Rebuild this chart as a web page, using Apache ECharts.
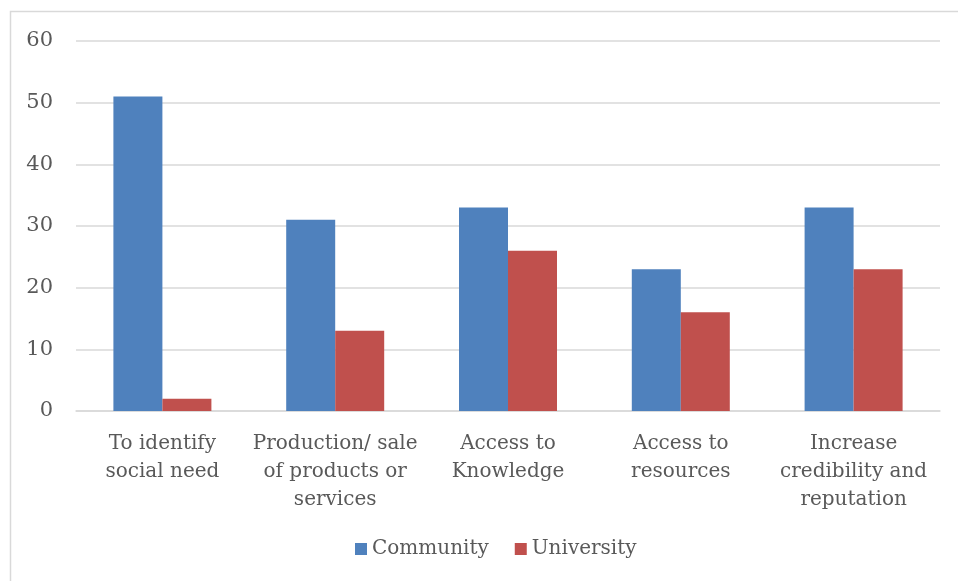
<!DOCTYPE html>
<html><head><meta charset="utf-8">
<script src="https://cdn.jsdelivr.net/npm/echarts@6/dist/echarts.min.js"></script>
<style>html,body{margin:0;padding:0;background:#fff}#c{width:958px;height:581px}</style>
</head><body><div id="c"></div>
<script>
const categories = ["To identify\nsocial need", "Production/ sale\nof products or\nservices", "Access to\nKnowledge", "Access to\nresources", "Increase\ncredibility and\nreputation"];
const community = [51, 31, 33, 23, 33];
const university = [2, 13, 26, 16, 23];
const yTicks = [0, 10, 20, 30, 40, 50, 60];

const FONT = "DejaVu Serif";
const chart = echarts.init(document.getElementById('c'));
chart.setOption({
  animation: false,
  textStyle: { fontFamily: FONT },
  graphic: [{ type: 'rect', shape: { x: 10.5, y: 11.5, width: 1000, height: 700 }, style: { fill: 'none', stroke: '#d9d9d9', lineWidth: 1.5 }, silent: true }],
  grid: { left: 76, right: 18, top: 41, bottom: 170, containLabel: false },
  legend: {
    data: ['Community', 'University'], bottom: 17, left: 350,
    itemWidth: 12, itemHeight: 12, itemGap: 26,
    icon: 'rect',
    textStyle: { fontFamily: FONT, fontSize: 20, color: '#595959' }
  },
  xAxis: {
    type: 'category', data: categories,
    axisLine: { lineStyle: { color: '#d9d9d9', width: 1.5 } },
    axisTick: { show: false },
    axisLabel: { fontFamily: FONT, fontSize: 20, color: '#595959', lineHeight: 28, margin: 19, interval: 0 }
  },
  yAxis: {
    type: 'value', min: yTicks[0], max: yTicks[yTicks.length - 1], interval: 10,
    axisLine: { show: false }, axisTick: { show: false },
    splitLine: { lineStyle: { color: '#d9d9d9', width: 1.5 } },
    axisLabel: { fontFamily: FONT, fontSize: 21, color: '#595959', margin: 23 }
  },
  series: [
    { name: 'Community', type: 'bar', data: community, barWidth: 49, barGap: '0%', itemStyle: { color: '#4F81BD' } },
    { name: 'University', type: 'bar', data: university, barWidth: 49, itemStyle: { color: '#C0504D' } }
  ]
});
</script></body></html>
